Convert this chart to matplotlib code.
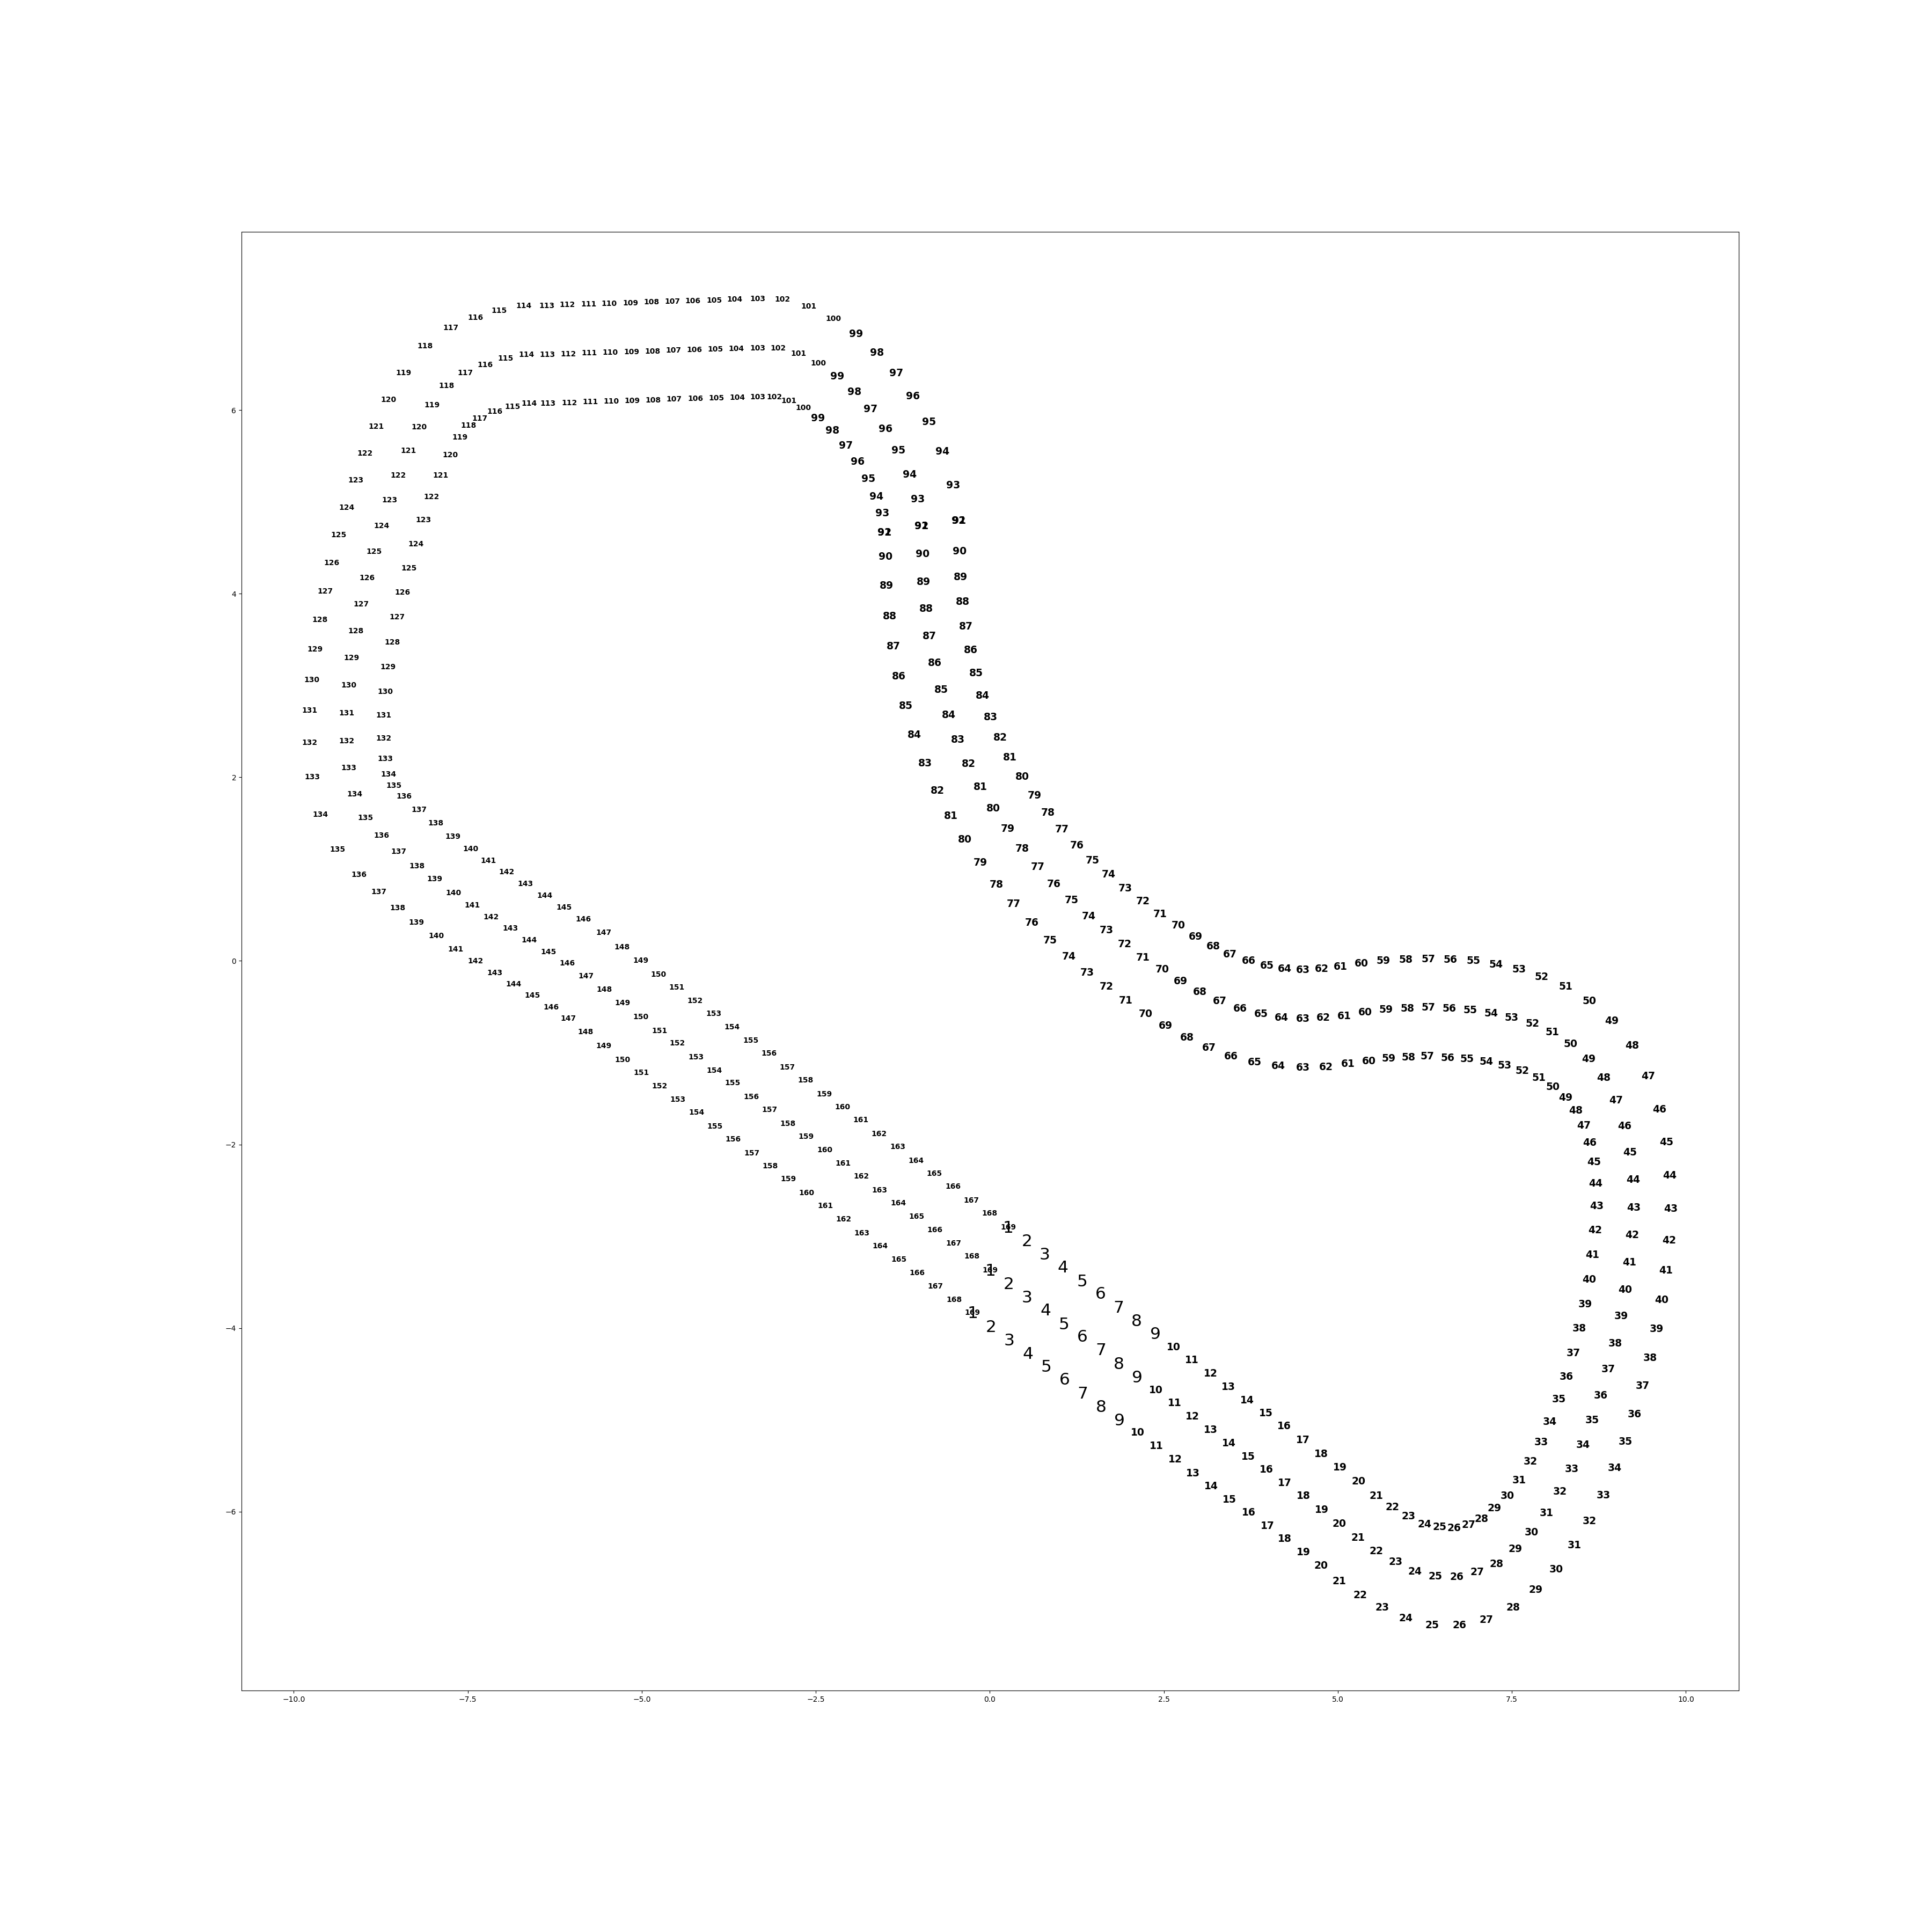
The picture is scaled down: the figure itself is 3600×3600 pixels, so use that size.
import matplotlib
matplotlib.use("Agg")
import matplotlib.pyplot as plt

# waypoint numbers 1..169 (169 closes the loop on top of 1)
labels = [str(i) for i in range(1, 170)]

# inner line
inner_x = [0.264, 0.532, 0.791, 1.051, 1.324, 1.588, 1.851, 2.111, 2.379, 2.643,
           2.903, 3.175, 3.431, 3.699, 3.963, 4.227, 4.496, 4.764, 5.032, 5.296,
           5.551, 5.781, 6.019, 6.248, 6.464, 6.668, 6.880, 7.062, 7.248, 7.438,
           7.602, 7.763, 7.918, 8.048, 8.174, 8.286, 8.381, 8.472, 8.550, 8.611,
           8.658, 8.697, 8.719, 8.706, 8.680, 8.619, 8.533, 8.420, 8.273, 8.087,
           7.888, 7.650, 7.395, 7.131, 6.854, 6.577, 6.287, 6.019, 5.733, 5.448,
           5.149, 4.829, 4.496, 4.145, 3.808, 3.469, 3.150, 2.834, 2.527, 2.241,
           1.955, 1.678, 1.402, 1.133, 0.865, 0.601, 0.346, 0.099, -0.139, -0.355,
           -0.563, -0.753, -0.926, -1.082, -1.203, -1.303, -1.381, -1.441, -1.480, -1.498,
           -1.511, -1.511, -1.541, -1.627, -1.744, -1.896, -2.069, -2.263, -2.467, -2.679,
           -2.887, -3.094, -3.336, -3.626, -3.925, -4.228, -4.535, -4.834, -5.137, -5.440,
           -5.738, -6.037, -6.348, -6.617, -6.855, -7.110, -7.326, -7.486, -7.612, -7.750,
           -7.889, -8.019, -8.135, -8.244, -8.343, -8.438, -8.512, -8.585, -8.646, -8.685,
           -8.707, -8.707, -8.681, -8.637, -8.559, -8.412, -8.196, -7.958, -7.711, -7.460,
           -7.205, -6.941, -6.673, -6.396, -6.119, -5.842, -5.548, -5.280, -5.016, -4.760,
           -4.496, -4.232, -3.964, -3.704, -3.436, -3.168, -2.908, -2.644, -2.376, -2.116,
           -1.852, -1.588, -1.320, -1.061, -0.797, -0.528, -0.264, 0.000, 0.264]
inner_y = [-2.893, -3.041, -3.188, -3.329, -3.477, -3.615, -3.763, -3.910, -4.051, -4.196,
           -4.337, -4.481, -4.632, -4.773, -4.918, -5.059, -5.210, -5.358, -5.509, -5.660,
           -5.814, -5.942, -6.040, -6.126, -6.158, -6.165, -6.132, -6.067, -5.952, -5.817,
           -5.646, -5.443, -5.230, -5.010, -4.764, -4.521, -4.261, -3.992, -3.730, -3.461,
           -3.191, -2.922, -2.662, -2.416, -2.183, -1.970, -1.783, -1.619, -1.481, -1.363,
           -1.264, -1.185, -1.130, -1.087, -1.061, -1.044, -1.031, -1.038, -1.054, -1.084,
           -1.113, -1.143, -1.153, -1.136, -1.093, -1.029, -0.936, -0.824, -0.696, -0.568,
           -0.421, -0.270, -0.119, 0.059, 0.233, 0.426, 0.630, 0.840, 1.079, 1.332,
           1.591, 1.867, 2.162, 2.471, 2.786, 3.107, 3.436, 3.764, 4.095, 4.414,
           4.679, 4.679, 4.886, 5.067, 5.260, 5.447, 5.625, 5.785, 5.920, 6.032,
           6.107, 6.150, 6.152, 6.143, 6.137, 6.133, 6.127, 6.114, 6.107, 6.104,
           6.097, 6.084, 6.078, 6.078, 6.045, 5.992, 5.917, 5.838, 5.710, 5.516,
           5.296, 5.060, 4.811, 4.545, 4.282, 4.020, 3.751, 3.478, 3.212, 2.943,
           2.681, 2.431, 2.208, 2.038, 1.916, 1.798, 1.654, 1.506, 1.361, 1.227,
           1.096, 0.974, 0.846, 0.721, 0.593, 0.459, 0.315, 0.160, 0.009, -0.138,
           -0.283, -0.424, -0.568, -0.713, -0.857, -1.002, -1.149, -1.294, -1.441, -1.582,
           -1.727, -1.875, -2.019, -2.167, -2.308, -2.452, -2.600, -2.744, -2.893]

# middle line
middle_x = [0.008, 0.272, 0.536, 0.800, 1.064, 1.328, 1.596, 1.856, 2.120, 2.388,
            2.652, 2.912, 3.176, 3.431, 3.712, 3.972, 4.240, 4.504, 4.768, 5.023,
            5.287, 5.551, 5.828, 6.110, 6.404, 6.707, 7.001, 7.282, 7.546, 7.784,
            8.001, 8.187, 8.364, 8.520, 8.650, 8.775, 8.883, 8.983, 9.069, 9.130,
            9.191, 9.229, 9.251, 9.242, 9.195, 9.121, 8.996, 8.818, 8.602, 8.347,
            8.078, 7.797, 7.494, 7.200, 6.901, 6.599, 6.300, 5.997, 5.694, 5.396,
            5.093, 4.794, 4.496, 4.193, 3.894, 3.600, 3.305, 3.020, 2.743, 2.475,
            2.202, 1.942, 1.674, 1.419, 1.172, 0.921, 0.692, 0.463, 0.255, 0.051,
            -0.135, -0.308, -0.455, -0.589, -0.701, -0.788, -0.866, -0.913, -0.948, -0.965,
            -0.978, -0.978, -1.035, -1.151, -1.312, -1.498, -1.714, -1.943, -2.190, -2.463,
            -2.744, -3.038, -3.336, -3.640, -3.942, -4.245, -4.544, -4.842, -5.145, -5.453,
            -5.756, -6.054, -6.357, -6.656, -6.954, -7.248, -7.534, -7.802, -8.014, -8.196,
            -8.352, -8.499, -8.620, -8.737, -8.845, -8.945, -9.031, -9.109, -9.170, -9.209,
            -9.239, -9.239, -9.209, -9.126, -8.971, -8.737, -8.490, -8.226, -7.975, -7.703,
            -7.434, -7.162, -6.885, -6.617, -6.340, -6.071, -5.799, -5.535, -5.275, -5.016,
            -4.747, -4.488, -4.219, -3.955, -3.696, -3.428, -3.163, -2.904, -2.640, -2.372,
            -2.108, -1.844, -1.584, -1.316, -1.052, -0.792, -0.520, -0.256, 0.008]
middle_y = [-3.359, -3.507, -3.654, -3.795, -3.943, -4.081, -4.229, -4.376, -4.524, -4.665,
            -4.806, -4.951, -5.098, -5.246, -5.387, -5.528, -5.676, -5.817, -5.968, -6.119,
            -6.273, -6.421, -6.536, -6.638, -6.693, -6.697, -6.647, -6.556, -6.395, -6.214,
            -6.004, -5.768, -5.522, -5.262, -4.993, -4.724, -4.439, -4.156, -3.861, -3.572,
            -3.274, -2.975, -2.675, -2.373, -2.078, -1.786, -1.510, -1.264, -1.061, -0.897,
            -0.765, -0.673, -0.608, -0.562, -0.529, -0.509, -0.496, -0.506, -0.522, -0.549,
            -0.588, -0.608, -0.621, -0.608, -0.568, -0.509, -0.427, -0.329, -0.211, -0.083,
            0.045, 0.193, 0.344, 0.498, 0.672, 0.850, 1.033, 1.233, 1.447, 1.670,
            1.903, 2.156, 2.418, 2.687, 2.966, 3.255, 3.547, 3.846, 4.141, 4.440,
            4.745, 4.745, 5.037, 5.310, 5.569, 5.802, 6.018, 6.206, 6.376, 6.517,
            6.622, 6.681, 6.684, 6.675, 6.672, 6.665, 6.658, 6.649, 6.642, 6.636,
            6.629, 6.616, 6.613, 6.613, 6.570, 6.501, 6.412, 6.271, 6.061, 5.822,
            5.562, 5.296, 5.027, 4.745, 4.466, 4.177, 3.892, 3.600, 3.308, 3.009,
            2.704, 2.405, 2.110, 1.821, 1.565, 1.371, 1.201, 1.043, 0.899, 0.751,
            0.616, 0.488, 0.360, 0.236, 0.108, -0.020, -0.155, -0.306, -0.453, -0.604,
            -0.752, -0.890, -1.038, -1.185, -1.323, -1.471, -1.615, -1.763, -1.907, -2.049,
            -2.196, -2.341, -2.488, -2.629, -2.774, -2.922, -3.067, -3.211, -3.359]

# outer line
outer_x = [-0.247, 0.017, 0.281, 0.545, 0.809, 1.073, 1.337, 1.601, 1.865, 2.124,
           2.397, 2.661, 2.920, 3.184, 3.440, 3.717, 3.989, 4.240, 4.504, 4.755,
           5.019, 5.318, 5.634, 5.975, 6.352, 6.746, 7.131, 7.516, 7.840, 8.139,
           8.399, 8.615, 8.814, 8.978, 9.134, 9.264, 9.381, 9.489, 9.580, 9.653,
           9.714, 9.762, 9.783, 9.770, 9.723, 9.619, 9.459, 9.229, 8.935, 8.611,
           8.273, 7.931, 7.602, 7.269, 6.945, 6.620, 6.300, 5.975, 5.651, 5.339,
           5.041, 4.768, 4.496, 4.240, 3.985, 3.721, 3.454, 3.215, 2.959, 2.708,
           2.449, 2.198, 1.947, 1.709, 1.475, 1.250, 1.034, 0.835, 0.640, 0.463,
           0.290, 0.147, 0.013, -0.104, -0.195, -0.277, -0.342, -0.386, -0.420, -0.433,
           -0.446, -0.446, -0.524, -0.680, -0.870, -1.104, -1.346, -1.619, -1.922, -2.246,
           -2.601, -2.977, -3.336, -3.661, -3.960, -4.263, -4.561, -4.860, -5.163, -5.466,
           -5.764, -6.071, -6.361, -6.695, -7.049, -7.391, -7.742, -8.114, -8.421, -8.637,
           -8.815, -8.975, -9.105, -9.239, -9.351, -9.455, -9.546, -9.624, -9.693, -9.741,
           -9.771, -9.771, -9.732, -9.615, -9.369, -9.061, -8.776, -8.503, -8.235, -7.949,
           -7.672, -7.387, -7.110, -6.842, -6.569, -6.301, -6.054, -5.807, -5.544, -5.275,
           -5.007, -4.743, -4.479, -4.211, -3.947, -3.687, -3.419, -3.155, -2.895, -2.631,
           -2.363, -2.099, -1.835, -1.575, -1.303, -1.043, -0.779, -0.511, -0.247]
outer_y = [-3.825, -3.976, -4.120, -4.265, -4.409, -4.550, -4.698, -4.846, -4.993, -5.125,
           -5.272, -5.420, -5.568, -5.712, -5.856, -5.998, -6.145, -6.283, -6.428, -6.579,
           -6.743, -6.897, -7.035, -7.150, -7.225, -7.225, -7.169, -7.032, -6.841, -6.618,
           -6.355, -6.093, -5.810, -5.515, -5.226, -4.928, -4.619, -4.314, -3.999, -3.681,
           -3.362, -3.034, -2.688, -2.327, -1.966, -1.605, -1.248, -0.913, -0.644, -0.427,
           -0.270, -0.165, -0.083, -0.030, 0.009, 0.022, 0.032, 0.026, 0.009, -0.020,
           -0.053, -0.076, -0.086, -0.076, -0.043, 0.013, 0.082, 0.167, 0.275, 0.397,
           0.518, 0.659, 0.800, 0.951, 1.105, 1.266, 1.444, 1.624, 1.811, 2.018,
           2.228, 2.441, 2.664, 2.897, 3.143, 3.396, 3.652, 3.921, 4.190, 4.469,
           4.804, 4.804, 5.188, 5.559, 5.881, 6.160, 6.412, 6.632, 6.839, 7.003,
           7.138, 7.213, 7.219, 7.213, 7.203, 7.197, 7.190, 7.184, 7.174, 7.167,
           7.161, 7.154, 7.144, 7.144, 7.092, 7.016, 6.905, 6.704, 6.412, 6.120,
           5.825, 5.536, 5.244, 4.945, 4.647, 4.341, 4.033, 3.721, 3.403, 3.068,
           2.733, 2.385, 2.011, 1.604, 1.220, 0.945, 0.758, 0.587, 0.429, 0.278,
           0.137, 0.003, -0.125, -0.247, -0.371, -0.499, -0.621, -0.768, -0.920, -1.067,
           -1.212, -1.359, -1.504, -1.645, -1.793, -1.937, -2.085, -2.229, -2.370, -2.518,
           -2.662, -2.807, -2.955, -3.096, -3.244, -3.388, -3.536, -3.680, -3.825]

tracks = [(inner_x, inner_y), (middle_x, middle_y), (outer_x, outer_y)]

# font size / weight by number of digits
size_by_len = {1: 22.5, 2: 13.5, 3: 10}
weight_by_len = {1: "normal", 2: "bold", 3: "bold"}

fig = plt.figure(figsize=(36, 36), dpi=100)
ax = fig.add_axes([0.125, 0.125, 0.775, 0.755])

for xs, ys in tracks:
    for lab, x, y in zip(labels, xs, ys):
        ax.text(x, y, lab, ha="center", va="center_baseline",
                fontsize=size_by_len[len(lab)], fontweight=weight_by_len[len(lab)])

ax.set_xlim(-10.75, 10.76)
ax.set_ylim(-7.947, 7.941)

fig.savefig("out.png", dpi=100)
